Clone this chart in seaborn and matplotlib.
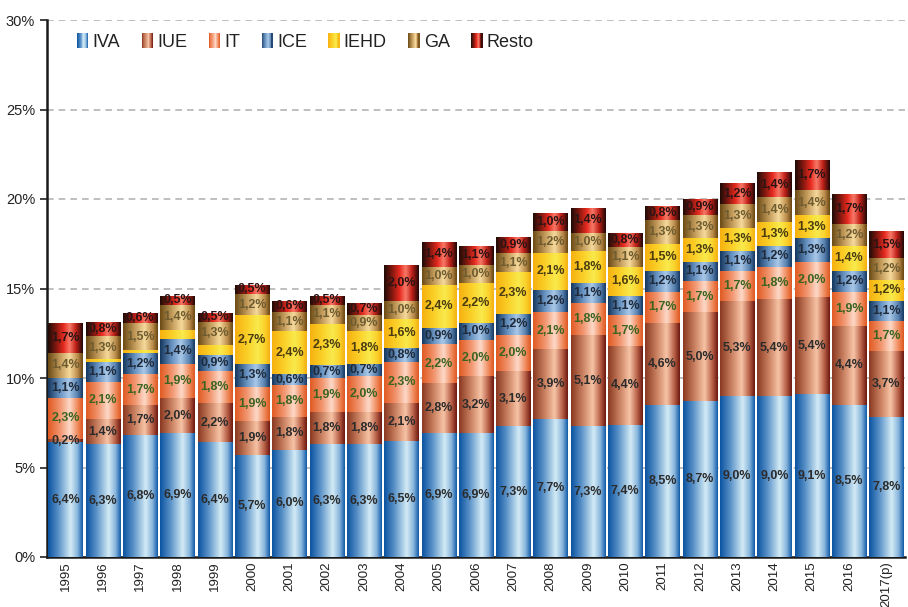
import numpy as np
import pandas as pd
import seaborn as sns
import matplotlib.pyplot as plt
from matplotlib.colors import LinearSegmentedColormap
from matplotlib.patches import Rectangle
from matplotlib.legend_handler import HandlerBase

# data (% of GDP)
years = ["1995", "1996", "1997", "1998", "1999", "2000", "2001", "2002", "2003",
         "2004", "2005", "2006", "2007", "2008", "2009", "2010", "2011", "2012",
         "2013", "2014", "2015", "2016", "2017(p)"]
iva = [6.4, 6.3, 6.8, 6.9, 6.4, 5.7, 6.0, 6.3, 6.3, 6.5, 6.9, 6.9, 7.3, 7.7,
       7.3, 7.4, 8.5, 8.7, 9.0, 9.0, 9.1, 8.5, 7.8]
iue = [0.2, 1.4, 1.7, 2.0, 2.2, 1.9, 1.8, 1.8, 1.8, 2.1, 2.8, 3.2, 3.1, 3.9,
       5.1, 4.4, 4.6, 5.0, 5.3, 5.4, 5.4, 4.4, 3.7]
it = [2.3, 2.1, 1.7, 1.9, 1.8, 1.9, 1.8, 1.9, 2.0, 2.3, 2.2, 2.0, 2.0, 2.1,
      1.8, 1.7, 1.7, 1.7, 1.7, 1.8, 2.0, 1.9, 1.7]
ice = [1.1, 1.1, 1.2, 1.4, 0.9, 1.3, 0.6, 0.7, 0.7, 0.8, 0.9, 1.0, 1.2, 1.2,
       1.1, 1.1, 1.2, 1.1, 1.1, 1.2, 1.3, 1.2, 1.1]
iehd = [0.0, 0.15, 0.15, 0.5, 0.55, 2.7, 2.4, 2.3, 1.8, 1.6, 2.4, 2.2, 2.3, 2.1,
        1.8, 1.6, 1.5, 1.3, 1.3, 1.3, 1.3, 1.4, 1.2]
ga = [1.4, 1.3, 1.5, 1.4, 1.3, 1.2, 1.1, 1.1, 0.9, 1.0, 1.0, 1.0, 1.1, 1.2,
      1.0, 1.1, 1.3, 1.3, 1.3, 1.4, 1.4, 1.2, 1.2]
resto = [1.7, 0.8, 0.6, 0.5, 0.5, 0.5, 0.6, 0.5, 0.7, 2.0, 1.4, 1.1, 0.9, 1.0,
         1.4, 0.8, 0.8, 0.9, 1.2, 1.4, 1.7, 1.7, 1.5]

series = ["IVA", "IUE", "IT", "ICE", "IEHD", "GA", "Resto"]
values = [iva, iue, it, ice, iehd, ga, resto]

# horizontal gradient stops for each series (left edge -> right edge)
stops = {
    "IVA":   [(0, "#0a52a0"), (0.3, "#5a92c8"), (0.65, "#d4ebf6"), (0.85, "#86b4dc"), (1, "#0e58a6")],
    "IUE":   [(0, "#8a3820"), (0.35, "#cc8464"), (0.62, "#f7c4a6"), (0.85, "#b45c44"), (1, "#6a160e")],
    "IT":    [(0, "#e05a22"), (0.35, "#f29670"), (0.62, "#fdd9c8"), (0.85, "#f08a5c"), (1, "#de5620")],
    "ICE":   [(0, "#14365e"), (0.35, "#6a94c2"), (0.6, "#a9c9e8"), (0.85, "#5680b0"), (1, "#14365e")],
    "IEHD":  [(0, "#f6b010"), (0.35, "#fbd028"), (0.65, "#f8ea4c"), (0.85, "#fbd22c"), (1, "#f4b010")],
    "GA":    [(0, "#6a4a14"), (0.35, "#c49c5c"), (0.62, "#f6da9c"), (0.85, "#bc8c4c"), (1, "#664410")],
    "Resto": [(0, "#1c0a06"), (0.25, "#8a1a10"), (0.45, "#e82a20"), (0.62, "#f87a68"), (0.8, "#c02018"), (1, "#1c0806")],
}
label_colors = {"IVA": "#2b2b2b", "IUE": "#2b2b2b", "IT": "#3b6420", "ICE": "#1f2a3a",
                "IEHD": "#4a3c10", "GA": "#6e5c30", "Resto": "#2a1414"}
cmaps = {k: LinearSegmentedColormap.from_list(k, v) for k, v in stops.items()}

sns.set_style("white")
plt.rcParams["font.family"] = ["Liberation Sans", "DejaVu Sans"]

fig = plt.figure(figsize=(9.08, 6.07), dpi=100)
ax = fig.add_axes([47 / 908, 50 / 607, 858 / 908, 537 / 607])

df = pd.DataFrame({"year": years, **dict(zip(series, values))})
grad = np.linspace(0, 1, 256).reshape(1, -1)
bottom = np.zeros(len(years))
for name in series:
    n_before = len(ax.patches)
    sns.barplot(data=df, x="year", y=name, bottom=bottom.copy(), width=0.92,
                color=cmaps[name](0.5), errorbar=None, linewidth=0, ax=ax, zorder=2)
    for p in ax.patches[n_before:]:
        x0, y0 = p.get_x(), p.get_y()
        w, h = p.get_width(), p.get_height()
        if h <= 0:
            continue
        im = ax.imshow(grad, cmap=cmaps[name], extent=[x0, x0 + w, y0, y0 + h],
                       aspect="auto", interpolation="bicubic", zorder=3)
        im.set_clip_path(p)
    for i, v in enumerate(df[name].values):
        show = v >= 0.15 and not (name == "IEHD" and v < 0.6)
        if show:
            ax.text(i, bottom[i] + v / 2, f"{v:.1f}%".replace(".", ","),
                    ha="center", va="center", fontsize=9, fontweight="bold",
                    color=label_colors[name], zorder=5)
    bottom += df[name].values

ax.set_xlim(-0.5, len(years) - 0.5)
ax.set_ylim(0, 30)
ax.set_xlabel("")
ax.set_ylabel("")

ax.set_xticks(range(len(years)))
ax.set_xticklabels(years, rotation=90, fontsize=9.5, color="#222222")
ax.set_xticks(np.arange(-0.5, len(years), 1), minor=True)
ax.tick_params(axis="x", which="major", length=0, pad=3)
ax.tick_params(axis="x", which="minor", length=5, width=1.2, color="#222222", direction="out")

yt = np.arange(0, 31, 5)
ax.set_yticks(yt)
ax.set_yticklabels([f"{v}%" for v in yt], fontsize=10.5, color="#222222")
ax.tick_params(axis="y", length=5, width=1.2, color="#222222", direction="out", left=True)

ax.yaxis.grid(True, linestyle=(0, (4, 3)), color="#b4b4b4", linewidth=1.2)
ax.set_axisbelow(True)
for s in ["top", "right"]:
    ax.spines[s].set_visible(False)
for s in ["left", "bottom"]:
    ax.spines[s].set_color("#1a1a1a")
    ax.spines[s].set_linewidth(1.8)


class GradientHandler(HandlerBase):
    def __init__(self, cmap):
        super().__init__()
        self.cmap = cmap

    def create_artists(self, legend, orig_handle, xdescent, ydescent, width,
                       height, fontsize, trans):
        n = 12
        arts = []
        for k in range(n):
            r = Rectangle((-xdescent + width * k / n, -ydescent), width / n + 0.2, height,
                          facecolor=self.cmap((k + 0.5) / n), edgecolor="none",
                          transform=trans)
            arts.append(r)
        return arts


handles = [Rectangle((0, 0), 1, 1) for _ in series]
leg = ax.legend(handles, series, loc="center left", bbox_to_anchor=(77 / 908, 1 - 42 / 607),
                bbox_transform=fig.transFigure, ncol=7, frameon=False, fontsize=13,
                handlelength=0.6, handleheight=0.9, handletextpad=0.25, columnspacing=1.2,
                borderpad=0, borderaxespad=0,
                handler_map={h: GradientHandler(cmaps[s]) for h, s in zip(handles, series)})
for t in leg.get_texts():
    t.set_color("#222222")

fig.savefig("out.png", dpi=100)
